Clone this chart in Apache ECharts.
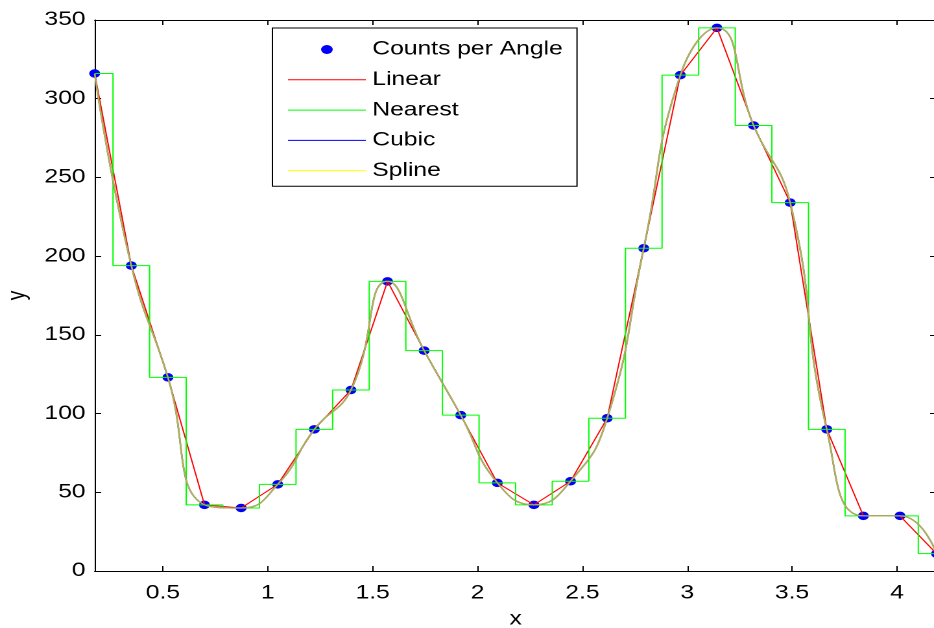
<!DOCTYPE html>
<html>
<head>
<meta charset="utf-8">
<title>Counts per Angle</title>
<script src="https://cdn.jsdelivr.net/npm/echarts@6/dist/echarts.min.js"></script>
<style>
  html, body { margin: 0; padding: 0; background: #fff; overflow: hidden; }
  /* The figure is laid out at 720px wide and stretched across the 934px window,
     giving the wide, flattened look of the exported plot. */
  #chart { width: 720px; height: 628px; transform-origin: 0 0; transform: scaleX(1.2972); }
</style>
</head>
<body>
<div id="chart"></div>
<script>
// Measurement angles (radians, 10° to 240° in 10° steps)
const angles = [0.1745, 0.3491, 0.5236, 0.6981, 0.8727, 1.0472, 1.2217, 1.3963,
                1.5708, 1.7453, 1.9199, 2.0944, 2.2689, 2.4435, 2.6180, 2.7925,
                2.9671, 3.1416, 3.3161, 3.4907, 3.6652, 3.8397, 4.0143, 4.1888];
// Counts recorded at each angle
const counts = [316, 194, 123, 42, 40, 55, 90, 115,
                184, 140, 99, 56, 42, 57, 97, 205,
                315, 345, 283, 234, 90, 35, 35, 11];
// Axis tick labels
const xTicks = [0.5, 1, 1.5, 2, 2.5, 3, 3.5, 4];
const yTicks = [0, 50, 100, 150, 200, 250, 300, 350];
const seriesNames = ['Counts per Angle', 'Linear', 'Nearest', 'Cubic', 'Spline'];

const pts = angles.map((a, i) => [a, counts[i]]);
const font = 'Liberation Sans, Arial, sans-serif';
const lineIcon = 'path://M0,0H60V1H0Z';

const chart = echarts.init(document.getElementById('chart'), null, { renderer: 'canvas', devicePixelRatio: 2 });

const tickStyle = { show: true, inside: true, length: 5, lineStyle: { color: '#000', width: 1 } };

chart.setOption({
  backgroundColor: '#fff',
  animation: false,
  grid: { left: 73, right: -2, top: 20, bottom: 57, containLabel: false, outerBoundsMode: 'none' },
  legend: {
    orient: 'vertical',
    left: 210,
    top: 28,
    padding: [11.5, 11, 5.5, 12],
    borderColor: '#000',
    borderWidth: 1,
    backgroundColor: '#fff',
    itemWidth: 60,
    itemHeight: 9,
    itemGap: 10.3,
    itemTextGap: 6,
    textStyle: { fontFamily: font, fontSize: 19, color: '#000', lineHeight: 20 },
    data: [
      { name: seriesNames[0], icon: 'circle', itemStyle: { color: '#0000ff', opacity: 1 } },
      { name: seriesNames[1], icon: lineIcon, itemStyle: { color: '#ff0000' } },
      { name: seriesNames[2], icon: lineIcon, itemStyle: { color: '#00ff00' } },
      { name: seriesNames[3], icon: lineIcon, itemStyle: { color: '#0000ff' } },
      { name: seriesNames[4], icon: lineIcon, itemStyle: { color: '#ffff00', opacity: 1 } }
    ]
  },
  xAxis: [
    {
      type: 'value',
      min: angles[0],
      max: angles[angles.length - 1],
      name: 'x',
      nameLocation: 'middle',
      nameGap: 39,
      nameTextStyle: { fontFamily: font, fontSize: 19, color: '#000' },
      axisLine: { show: true, onZero: false, lineStyle: { color: '#000', width: 1 } },
      axisTick: Object.assign({ customValues: xTicks }, tickStyle),
      axisLabel: { customValues: xTicks, fontFamily: font, fontSize: 19, color: '#000', margin: 13 },
      splitLine: { show: false }
    },
    {
      type: 'value',
      position: 'top',
      min: angles[0],
      max: angles[angles.length - 1],
      axisLine: { show: true, onZero: false, lineStyle: { color: '#000', width: 1 } },
      axisTick: Object.assign({ customValues: xTicks }, tickStyle),
      axisLabel: { show: false },
      splitLine: { show: false }
    }
  ],
  yAxis: [
    {
      type: 'value',
      min: yTicks[0],
      max: yTicks[yTicks.length - 1],
      interval: 50,
      name: 'y',
      nameLocation: 'middle',
      nameGap: 49,
      nameTextStyle: { fontFamily: font, fontSize: 19, color: '#000' },
      axisLine: { show: true, onZero: false, lineStyle: { color: '#000', width: 1 } },
      axisTick: tickStyle,
      axisLabel: { fontFamily: font, fontSize: 19, color: '#000', margin: 7 },
      splitLine: { show: false }
    },
    {
      type: 'value',
      position: 'right',
      min: yTicks[0],
      max: yTicks[yTicks.length - 1],
      interval: 50,
      axisLine: { show: true, onZero: false, lineStyle: { color: '#000', width: 1 } },
      axisTick: tickStyle,
      axisLabel: { show: false },
      splitLine: { show: false }
    }
  ],
  series: [
    {
      name: seriesNames[0],
      type: 'scatter',
      data: pts,
      symbol: 'circle',
      symbolSize: 8.5,
      itemStyle: { color: '#0000ff', opacity: 1 },
      z: 1
    },
    {
      name: seriesNames[1],
      type: 'line',
      data: pts,
      showSymbol: false,
      symbol: 'none',
      lineStyle: { color: '#ff0000', width: 1 },
      itemStyle: { color: '#ff0000' },
      z: 2
    },
    {
      name: seriesNames[2],
      type: 'line',
      data: pts,
      step: 'middle',
      showSymbol: false,
      symbol: 'none',
      lineStyle: { color: '#00ff00', width: 1 },
      itemStyle: { color: '#00ff00' },
      z: 2
    },
    {
      name: seriesNames[3],
      type: 'line',
      data: pts,
      smooth: 0.5,
      showSymbol: false,
      symbol: 'none',
      lineStyle: { color: '#0000ff', width: 1.3 },
      itemStyle: { color: '#0000ff' },
      z: 3
    },
    {
      name: seriesNames[4],
      type: 'line',
      data: pts,
      smooth: 0.5,
      showSymbol: false,
      symbol: 'none',
      lineStyle: { color: '#ffff00', width: 1.3, opacity: 0.7 },
      itemStyle: { color: '#ffff00' },
      z: 4
    }
  ]
});
</script>
</body>
</html>
